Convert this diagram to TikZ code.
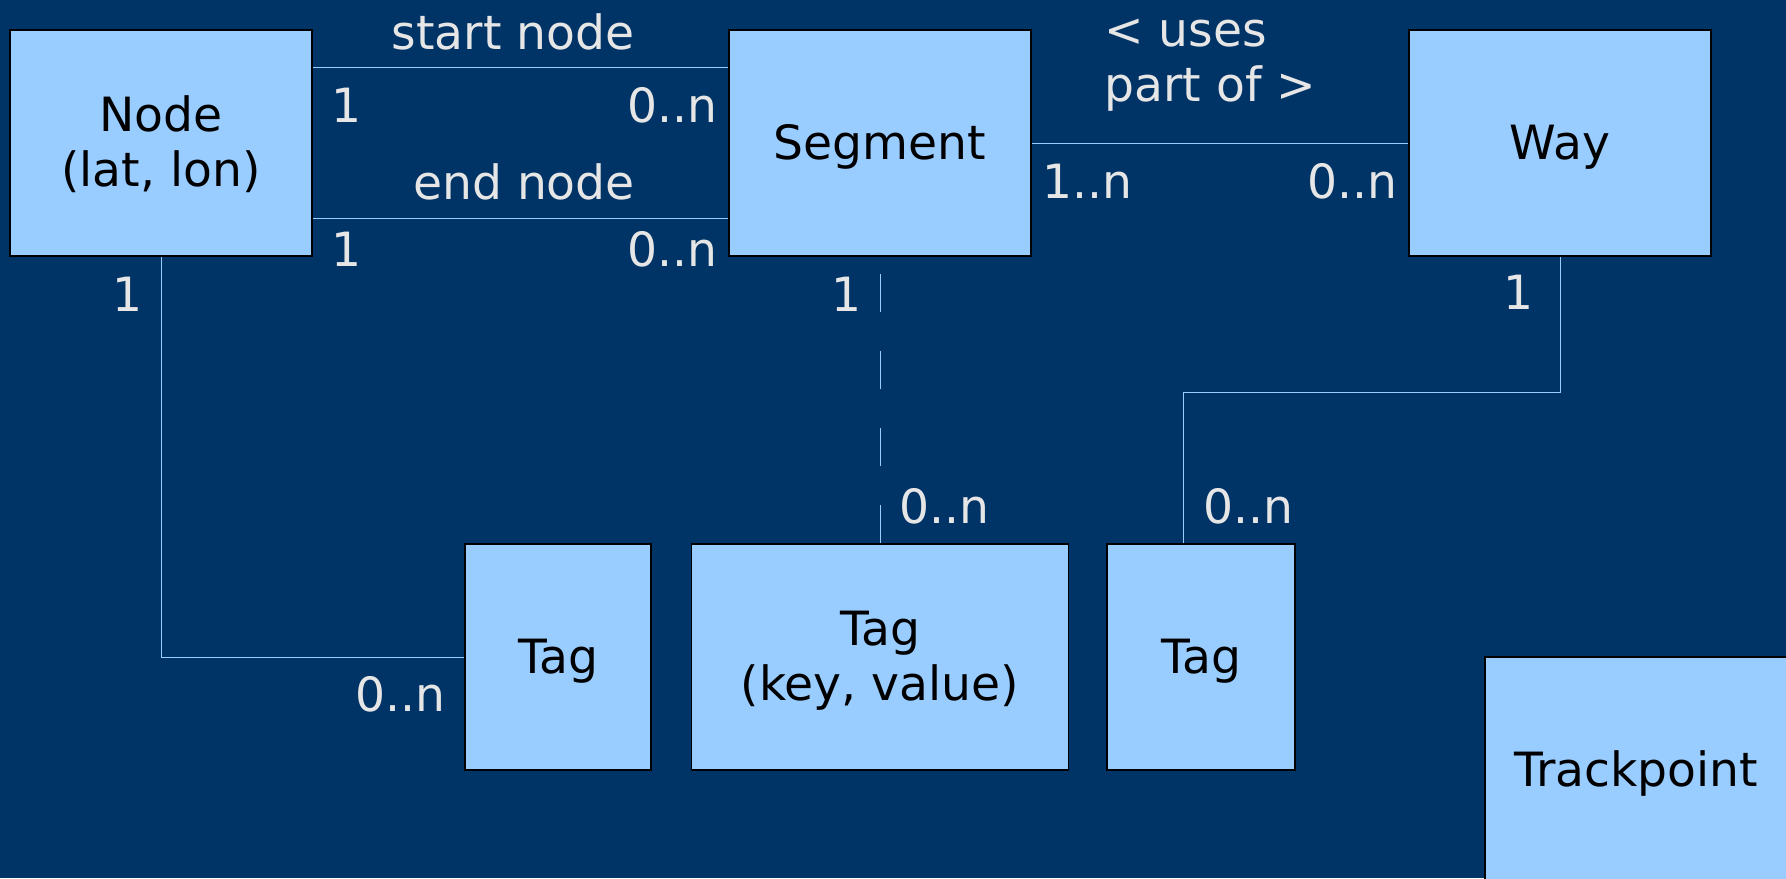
\documentclass[tikz,border=0pt]{standalone}
\usepackage{fontspec}
\setmainfont{DejaVu Sans}
\definecolor{bg}{RGB}{0,51,102}
\definecolor{boxfill}{RGB}{153,204,255}
\definecolor{linec}{RGB}{153,204,255}
\definecolor{labc}{RGB}{230,230,230}
\newcommand\tstr{\rule{0pt}{0.928em}}
\newcommand\bstr{\rule[-0.236em]{0pt}{0.236em}}
\tikzset{
  entity/.style={draw=black, line width=0.6pt, fill=boxfill, inner sep=0pt,
    minimum height=113pt, align=center, text=black,
    font=\fontsize{23.6}{27.5}\selectfont},
  conn/.style={draw=linec, line width=0.5pt},
  lab/.style={text=labc, inner sep=0pt, anchor=base, font=\fontsize{23.6}{27.5}\selectfont},
  labw/.style={lab, anchor=base west}
}
\begin{document}
\begin{tikzpicture}[x=0.5pt,y=-0.5pt]
\fill[bg] (0,0) rectangle (1786,878);
\useasboundingbox (0,0) rectangle (1786,878);
\clip (0,0) rectangle (1786,878);
% entities
\node[entity, minimum width=151pt] (nd) at (161,143) {\tstr Node\\(lat, lon)\bstr};
\node[entity, minimum width=151pt] (seg) at (880,143) {\tstr Segment\bstr};
\node[entity, minimum width=151pt] (way) at (1560,143) {\tstr Way\bstr};
\node[entity, minimum width=93pt] (tagA) at (558,657) {\tstr Tag\bstr};
\node[entity, minimum width=188.5pt] (tagB) at (880,657) {\tstr Tag\\(key, value)\bstr};
\node[entity, minimum width=94pt] (tagC) at (1201,657) {\tstr Tag\bstr};
\node[entity, minimum width=151pt] (tp) at (1636,770) {\tstr Trackpoint\bstr};
% connectors
\draw[conn] (nd.east |- 0,67) -- (seg.west |- 0,67);
\draw[conn] (nd.east |- 0,218) -- (seg.west |- 0,218);
\draw[conn] (seg.east) -- (way.west);
\draw[conn] (nd.south) |- (tagA.west);
\coordinate (segtop) at (880,274);
\draw[conn, dash pattern=on 19pt off 19.5pt] (tagB.north) -- (segtop);
\coordinate (wk) at (1183,392);
\draw[conn] (way.south) |- (wk) -- (wk |- tagC.north);
% labels
\node[lab] (l1) at (513,49) {start node};
\node[lab] (l2) at (524,199) {end node};
\node[lab] (l3) at (347,122) {1};
\node[lab] (l4) at (672,122) {0..n};
\node[lab] (l5) at (347,266) {1};
\node[lab] (l6) at (672,266) {0..n};
\node[lab] (l7) at (128,311) {1};
\node[lab] (l8) at (846,311) {1};
\node[lab] (l9) at (400,711) {0..n};
\node[lab] (l10) at (944,523) {0..n};
\node[lab] (l11) at (1248,523) {0..n};
\node[lab] (l12) at (1518,309) {1};
\node[lab] (l13) at (1087,198) {1..n};
\node[lab] (l14) at (1352,198) {0..n};
\node[labw] (l15) at (1104,46) {< uses};
\node[labw] (l16) at (1104,101) {part of >};
\end{tikzpicture}
\end{document}
